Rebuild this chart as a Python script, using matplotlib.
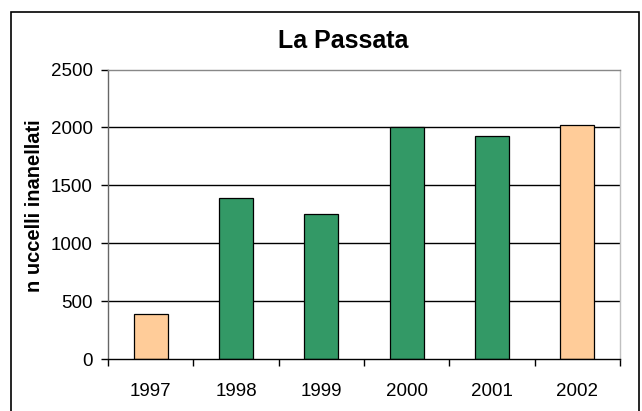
import matplotlib.pyplot as plt
from matplotlib.patches import Rectangle

plt.rcParams['font.family'] = ['Liberation Sans', 'DejaVu Sans']

# data
years = ['1997', '1998', '1999', '2000', '2001', '2002']
ringed = [390, 1393, 1251, 2000, 1922, 2025]
colors = ['#FFCC99', '#339966', '#339966', '#339966', '#339966', '#FFCC99']
y_ticks = [0, 500, 1000, 1500, 2000, 2500]

W, H = 642, 411
fig = plt.figure(figsize=(W / 100, H / 100), dpi=100)

# plot area in pixel terms -> figure fraction
left, right, top, bottom = 108, 620, 69.5, 359
ax = fig.add_axes([left / W, 1 - bottom / H, (right - left) / W, (bottom - top) / H])

x = range(len(years))
ax.bar(x, ringed, width=0.4, color=colors, edgecolor='black', linewidth=0.9, zorder=3)

ax.set_xlim(-0.5, len(years) - 0.5)
ax.set_ylim(0, 2500)
ax.set_yticks(y_ticks)
ax.set_yticklabels([str(v) for v in y_ticks], fontsize=13.5)
ax.set_xticks(list(x))
ax.set_xticklabels(years, fontsize=13.5)
ax.tick_params(axis='x', length=0, pad=17.5)
ax.tick_params(axis='y', length=5, width=1, pad=6, color='black')
# ticks between categories
ax.set_xticks([i + 0.5 for i in range(-1, len(years))], minor=True)
ax.tick_params(axis='x', which='minor', length=5, width=1, color='black')

# gridlines (black, like the old excel look)
for v in y_ticks[1:-1]:
    ax.axhline(v, color='black', linewidth=1, zorder=1)

ax.spines['left'].set_color('#666666')
ax.spines['top'].set_color('#888888')
ax.spines['right'].set_color('#c0c0c0')
ax.spines['bottom'].set_color('black')
for s in ax.spines.values():
    s.set_linewidth(1)
ax.spines['bottom'].set_zorder(4)

ax.set_ylabel('n uccelli inanellati', fontsize=14.5, fontweight='bold')
ax.yaxis.set_label_coords(44 / W, 0.5, transform=fig.transFigure)

fig.text(343.5 / W, 1 - 41.5 / H, 'La Passata', fontsize=18, fontweight='bold',
         ha='center', va='center')

# outer chart border (bottom edge falls outside the image)
fig.patches.append(Rectangle((10.7 / W, -0.05), (639.3 - 10.7) / W, 1.05 - 11.7 / H,
                             transform=fig.transFigure, fill=False,
                             edgecolor='black', linewidth=1.2))

fig.savefig('out.png', dpi=100)
